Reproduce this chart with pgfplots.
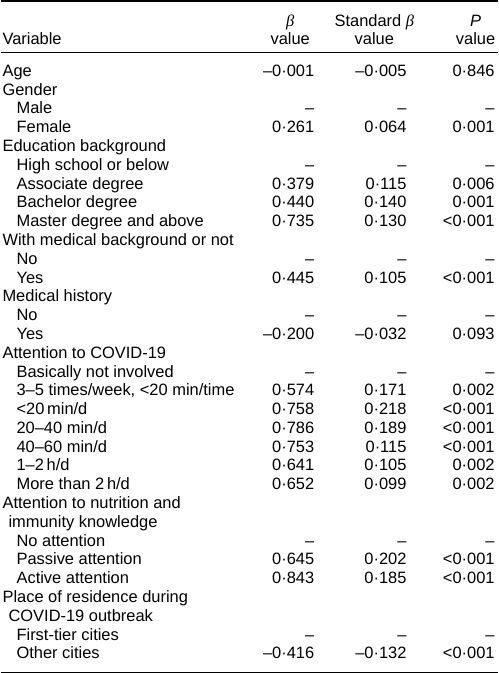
\documentclass[border=0pt]{standalone}
\usepackage{fontspec}
\setmainfont{Liberation Sans}
\newfontfamily\betafont{Liberation Serif}
\usepackage{pgfplots}
\usepackage{pgfplotstable}
\pgfplotsset{compat=1.18}
\protected\def\B{{\betafont\itshape β}}
\protected\def\Pit{{\itshape P}}

\pgfplotstableread[col sep=semicolon]{
row;x;label
0;2;Age
1;2;Gender
2;16;Male
3;16;Female
4;2;Education background
5;16;High school or below
6;16;Associate degree
7;16;Bachelor degree
8;16;Master degree and above
9;2;With medical background or not
10;16;No
11;16;Yes
12;2;Medical history
13;16;No
14;16;Yes
15;2;Attention to COVID-19
16;16;Basically not involved
17;16;3–5 times/week, <20 min/time
18;16;<20\,min/d
19;16;20–40 min/d
20;16;40–60 min/d
21;16;1–2\,h/d
22;16;More than 2\,h/d
23;2;Attention to nutrition and
24;8;immunity knowledge
25;16;No attention
26;16;Passive attention
27;16;Active attention
28;2;Place of residence during
29;8;COVID-19 outbreak
30;16;First-tier cities
31;16;Other cities
}\labels

\pgfplotstableread[col sep=semicolon]{
row;b;sb;p
0;–0·001;–0·005;0·846
2;–;–;–
3;0·261;0·064;0·001
5;–;–;–
6;0·379;0·115;0·006
7;0·440;0·140;0·001
8;0·735;0·130;<0·001
10;–;–;–
11;0·445;0·105;<0·001
13;–;–;–
14;–0·200;–0·032;0·093
16;–;–;–
17;0·574;0·171;0·002
18;0·758;0·218;<0·001
19;0·786;0·189;<0·001
20;0·753;0·115;<0·001
21;0·641;0·105;0·002
22;0·652;0·099;0·002
25;–;–;–
26;0·645;0·202;<0·001
27;0·843;0·185;<0·001
30;–;–;–
31;–0·416;–0·132;<0·001
}\values

\pgfplotstableread[col sep=semicolon]{
x;y;text
289;27;\B
373;27;Standard \B
474;27;\Pit
289;45;value
373;45;value
474;45;value
}\header

\pgfplotstableread[col sep=semicolon]{
x;y;text
2;45;Variable
}\varhead

\begin{document}
\begin{tikzpicture}
\begin{axis}[
  width=496bp, height=673bp, scale only axis,
  xmin=0, xmax=496, ymin=0, ymax=673, y dir=reverse,
  axis lines=none, clip=false,
  point meta=explicit symbolic,
  nodes near coords,
  every node near coord/.append style={inner sep=0pt, outer sep=0pt,
     font=\fontsize{16.4bp}{18.7bp}\selectfont, text=black},
]
% rules
\addplot[black, line width=1.1bp, mark=none] coordinates {(0,1.5) (496,1.5)};
\addplot[black, line width=0.9bp, mark=none] coordinates {(0,52.5) (496,52.5)};
\addplot[black, line width=1.1bp, mark=none] coordinates {(0,671.5) (496,671.5)};
% header
\addplot[draw=none, mark=none, every node near coord/.append style={anchor=base}]
  table[x=x, y=y, meta=text] {\header};
\addplot[draw=none, mark=none, every node near coord/.append style={anchor=base west}]
  table[x=x, y=y, meta=text] {\varhead};
% labels
\addplot[draw=none, mark=none, every node near coord/.append style={anchor=base west}]
  table[x=x, y expr={76.7+18.75*\thisrow{row}}, meta=label] {\labels};
% values
\addplot[draw=none, mark=none, every node near coord/.append style={anchor=base east}]
  table[x expr=313, y expr={76.7+18.75*\thisrow{row}}, meta=b] {\values};
\addplot[draw=none, mark=none, every node near coord/.append style={anchor=base east}]
  table[x expr=405, y expr={76.7+18.75*\thisrow{row}}, meta=sb] {\values};
\addplot[draw=none, mark=none, every node near coord/.append style={anchor=base east}]
  table[x expr=493, y expr={76.7+18.75*\thisrow{row}}, meta=p] {\values};
\end{axis}
\end{tikzpicture}
\end{document}
